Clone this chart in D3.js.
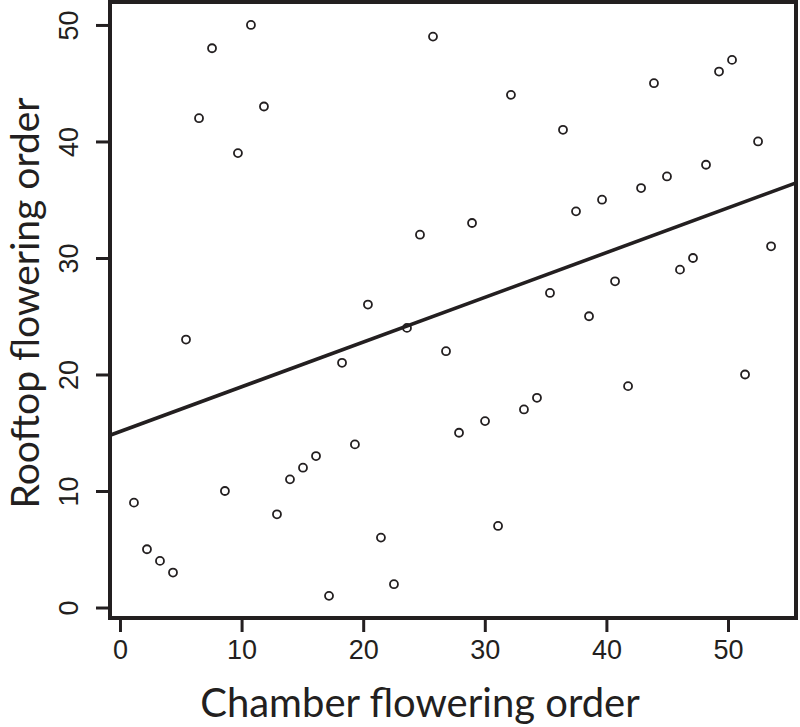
<!DOCTYPE html>
<html>
<head>
<meta charset="utf-8">
<script src="https://cdn.jsdelivr.net/npm/d3@7"></script>
<style>
  body { margin: 0; background: #fff; }
  svg { display: block; }
</style>
</head>
<body>
<svg id="chart" width="800" height="727"></svg>
<script>
// chamber order (x) and rooftop order (y) for each species
const chamberOrder = [
  1.15, 2.22, 3.29, 4.36, 5.43, 6.50, 7.57, 8.63, 9.70, 10.77,
  11.84, 12.91, 13.98, 15.05, 16.12, 17.19, 18.26, 19.32, 20.39, 21.46,
  22.53, 23.60, 24.67, 25.74, 26.81, 27.88, 28.95, 30.02, 31.09, 32.15,
  33.22, 34.29, 35.36, 36.43, 37.50, 38.57, 39.64, 40.71, 41.78, 42.85,
  43.91, 44.98, 46.05, 47.12, 48.19, 49.26, 50.33, 51.40, 52.47, 53.54
];
const rooftopOrder = [
  9, 5, 4, 3, 23, 42, 48, 10, 39, 50,
  43, 8, 11, 12, 13, 1, 21, 14, 26, 6,
  2, 24, 32, 49, 22, 15, 33, 16, 7, 44,
  17, 18, 27, 41, 34, 25, 35, 28, 19, 36,
  45, 37, 29, 30, 38, 46, 47, 20, 40, 31
];
const xTicks = [0, 10, 20, 30, 40, 50];
const yTicks = [0, 10, 20, 30, 40, 50];
// fitted line (rooftop = a + b * chamber)
const fitIntercept = 15.1;
const fitSlope = 0.384;

const xDomain = [-0.82, 55.59];
const yDomain = [-0.9, 51.97];

const box = { left: 110, right: 796, top: 2, bottom: 618 };

const svg = d3.select('#chart');

const x = d3.scaleLinear().domain(xDomain).range([box.left, box.right]);
const y = d3.scaleLinear().domain(yDomain).range([box.bottom, box.top]);

const points = chamberOrder.map((c, i) => ({ c, r: rooftopOrder[i] }));

svg.append('defs').append('clipPath')
  .attr('id', 'plot-clip')
  .append('rect')
  .attr('x', box.left)
  .attr('y', box.top)
  .attr('width', box.right - box.left)
  .attr('height', box.bottom - box.top);

// regression line
svg.append('line')
  .attr('clip-path', 'url(#plot-clip)')
  .attr('x1', x(xDomain[0]))
  .attr('y1', y(fitIntercept + fitSlope * xDomain[0]))
  .attr('x2', x(xDomain[1]))
  .attr('y2', y(fitIntercept + fitSlope * xDomain[1]))
  .attr('stroke', '#231f20')
  .attr('stroke-width', 3.6);

// points
svg.append('g')
  .selectAll('circle')
  .data(points)
  .join('circle')
  .attr('cx', d => x(d.c))
  .attr('cy', d => y(d.r))
  .attr('r', 4)
  .attr('fill', 'none')
  .attr('stroke', '#231f20')
  .attr('stroke-width', 1.8);

// axes
const xAxis = d3.axisBottom(x).tickValues(xTicks).tickSize(12).tickPadding(8);
const yAxis = d3.axisLeft(y).tickValues(yTicks).tickSize(14).tickPadding(8);

const gx = svg.append('g')
  .attr('transform', `translate(0,${box.bottom + 2})`)
  .call(xAxis);
gx.select('.domain').remove();
gx.selectAll('.tick line').attr('stroke', '#231f20').attr('stroke-width', 3);
gx.selectAll('.tick text')
  .attr('fill', '#231f20')
  .style('font-family', '"Liberation Sans", Arial, sans-serif')
  .style('font-size', '27px');

const gy = svg.append('g')
  .attr('transform', `translate(${box.left},0)`)
  .call(yAxis);
gy.select('.domain').remove();
gy.selectAll('.tick line').attr('stroke', '#231f20').attr('stroke-width', 3);
gy.selectAll('.tick text')
  .attr('fill', '#231f20')
  .attr('text-anchor', 'middle')
  .attr('x', null)
  .attr('dy', null)
  .attr('transform', 'translate(-32,0) rotate(-90)')
  .style('font-family', '"Liberation Sans", Arial, sans-serif')
  .style('font-size', '27px');

// frame
svg.append('rect')
  .attr('x', box.left)
  .attr('y', box.top)
  .attr('width', box.right - box.left)
  .attr('height', box.bottom - box.top)
  .attr('fill', 'none')
  .attr('stroke', '#231f20')
  .attr('stroke-width', 4);

// axis titles
svg.append('text')
  .attr('x', 420)
  .attr('y', 717)
  .attr('text-anchor', 'middle')
  .attr('fill', '#231f20')
  .style('font-family', 'Lato, sans-serif')
  .style('font-size', '40px')
  .text('Chamber flowering order');

svg.append('text')
  .attr('transform', 'translate(39,303) rotate(-90)')
  .attr('text-anchor', 'middle')
  .attr('fill', '#231f20')
  .style('font-family', 'Lato, sans-serif')
  .style('font-size', '39px')
  .text('Rooftop flowering order');
</script>
</body>
</html>
